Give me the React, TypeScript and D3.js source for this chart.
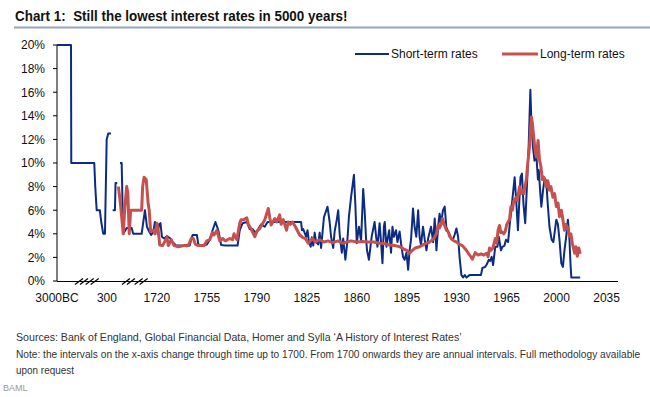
import React, { useLayoutEffect, useRef } from 'react';
import * as d3 from 'd3';

const W = 650;
const H = 397;

// x axis categories (category index positions and labels)
const tickIndex = [0, 35, 70, 105, 140, 175, 210, 245, 280, 315, 350, 385];
const tickLabels = ['3000BC', '300', '1720', '1755', '1790', '1825', '1860', '1895', '1930', '1965', '2000', '2035'];
const yTicks = [0, 2, 4, 6, 8, 10, 12, 14, 16, 18, 20];
const breakIndex = [17.5, 25.0, 50.4, 59.3];

// before 1700 the categories are irregular: [category index, value]
const earlyShort: [number, number | null][] = [
  [0, 20], [9.8, 20], [10, 10], [26.1, 10], [26.8, 8], [27.8, 6], [30, 6], [31, 5], [32.4, 4], [33.6, 4],
  [34.8, 12], [35.9, 12.5], [37.8, 12.5], [38.4, null],
  [39, 6], [40.6, 6], [41, 8.3], [42.2, 8.3], [43, null],
  [44.1, 10], [45.3, 10], [46, 6], [46.4, 4], [48.8, 4.5],
];
const earlyLong: [number, number | null][] = [
  [43, 8], [44.5, 6.5], [46.4, 4], [47.5, 6.2], [48.8, 8], [49.6, 7.5], [50.6, 4], [51.6, 6],
];

// from 1700 annual: [year, value]
const shortRates: [number, number][] = [
  [1702.3, 4.5], [1703.4, 4], [1709.3, 4], [1711.6, 6], [1713, 4.6], [1714.5, 4.2], [1716, 3.9], [1717.5, 4.2],
  [1718.6, 5.0], [1719.6, 4.9], [1720.5, 4.0], [1721.5, 4.8], [1722.5, 4.9], [1723.5, 3.75], [1725, 3.6], [1727, 3.8],
  [1729.5, 3.6], [1731, 3.3], [1733.5, 3.0], [1739, 3.0], [1741, 2.95], [1743, 3.0], [1744, 3.5], [1745, 3.9],
  [1748, 3.9], [1749, 3.1], [1752, 3.0], [1755, 3.1], [1757, 3.5], [1759, 4.3], [1761, 5.0], [1763, 4.3],
  [1765, 3.05], [1768, 3.0], [1772, 3.0], [1776.5, 3.0], [1778, 4.3], [1780, 4.9], [1783, 5.0], [1785, 4.4],
  [1787, 4.4], [1789, 4.1], [1791, 4.4], [1793, 4.8], [1795.5, 4.6], [1797.5, 5.0], [1821, 5.0], [1821.6, 4.3],
  [1822.5, 4.4], [1824.5, 3.75], [1825.5, 4.3], [1826.5, 3.3], [1827.7, 2.9], [1828.5, 3.7], [1829.5, 3.0],
  [1830.5, 4.1], [1831.5, 3.3], [1833, 3.1], [1834, 4.1], [1835, 2.8], [1837, 5.4], [1839.5, 6.3], [1841, 5.0],
  [1842, 3.75], [1843.5, 2.8], [1844.5, 4.2], [1846, 5.2], [1847, 6.0], [1848, 4.0], [1849.5, 2.4], [1850.5, 3.6],
  [1852, 1.8], [1853.3, 3.2], [1854.5, 5.45], [1856, 7.1], [1858, 9.0], [1859, 6.5], [1860, 3.2], [1861.5, 4.6],
  [1863, 3.4], [1864.5, 7.8], [1865.5, 6.0], [1866.5, 3.6], [1867.2, 2.6], [1868.5, 1.8], [1869.5, 2.8],
  [1870.5, 3.8], [1872.5, 5.0], [1873.5, 3.8], [1874.5, 2.9], [1876, 4.9], [1877, 3.3], [1878, 1.5], [1879, 4.6],
  [1879.6, 5.0], [1880.8, 2.9], [1881.7, 3.6], [1882.7, 4.3], [1884, 2.4], [1885, 4.6], [1886, 3.75],
  [1887.5, 4.3], [1888.5, 3.3], [1890, 4.2], [1891, 3.2], [1892.4, 2.05], [1893.5, 1.8], [1894.8, 2.4],
  [1896, 0.95], [1897, 2.6], [1898, 3.5], [1899.4, 6.15], [1900.5, 4.6], [1901.7, 3.75], [1903, 6.0],
  [1904, 3.75], [1905, 3.05], [1906.4, 4.6], [1907.6, 3.5], [1908.8, 2.6], [1910, 3.6], [1912, 4.6],
  [1913.5, 3.3], [1914.6, 5.3], [1915.8, 2.6], [1917, 4.6], [1918, 5.7], [1919, 4.9], [1920.4, 6.0],
  [1921.6, 6.3], [1922.7, 4.6], [1923.9, 4.2], [1925, 3.75], [1927.3, 3.5], [1928.5, 3.9], [1929.8, 4.45],
  [1931, 3.75], [1932, 2.05], [1933.3, 0.5], [1934.5, 0.3], [1935.7, 0.5], [1936.8, 0.3], [1939, 0.5],
  [1947, 0.5], [1948, 1.1], [1950, 1.2], [1951, 1.4], [1952.5, 1.8], [1953.5, 1.7], [1954.5, 2.05],
  [1955.5, 1.35], [1957, 2.9], [1958.5, 2.9], [1959.5, 3.75], [1961, 2.6], [1962, 2.9], [1963.5, 3.0],
  [1964.5, 3.5], [1966, 3.3], [1967, 4.6], [1968, 5.7], [1969, 6.9], [1970.6, 8.8], [1971.8, 6.6],
  [1972.9, 4.3], [1974, 7.1], [1974.7, 8.8], [1975.7, 9.1], [1976.8, 6.5], [1978, 4.9], [1979, 7.5],
  [1980.4, 11.4], [1981.6, 16.2], [1982.3, 13.6], [1983.4, 11.4], [1984.5, 10.2], [1985.8, 10.7],
  [1986.9, 8.6], [1987.5, 9.4], [1988.6, 7.4], [1989.3, 6.3], [1990.5, 7.7], [1991.6, 8.7], [1992.7, 8.5],
  [1993.8, 6.5], [1995, 4.6], [1996.5, 3.5], [1997.7, 3.3], [1999.8, 5.2], [2000.9, 4.8], [2002, 3.5],
  [2003.3, 1.5], [2004.4, 1.2], [2005.5, 2.6], [2006.7, 3.75], [2007.9, 5.2], [2009, 3.5], [2009.7, 1.5],
  [2010.3, 0.3], [2016.5, 0.3],
];

const longRates: [number, number][] = [
  [1709.3, 6], [1710, 8], [1711, 8.8], [1712.5, 8.6], [1713.9, 6.5], [1714.6, 6], [1715.6, 4.2], [1717.5, 4.3],
  [1718.6, 4.0], [1720, 4.9], [1721, 4.2], [1722, 3.05], [1724, 3.0], [1727, 3.7], [1728, 3.0], [1730, 3.5],
  [1732, 3.0], [1735, 2.9], [1739, 3.0], [1742, 3.0], [1744, 3.6], [1745.5, 3.6], [1747, 3.1], [1749, 3.0],
  [1753, 3.0], [1755, 3.4], [1757, 3.5], [1759, 4.1], [1760, 3.9], [1762, 4.3], [1764, 3.4], [1766, 3.6],
  [1768, 3.4], [1771, 3.6], [1773, 3.5], [1774, 4.0], [1776, 3.5], [1778, 4.9], [1779, 5.2], [1781, 5.2],
  [1783, 5.35], [1784, 4.8], [1786, 4.4], [1788.6, 3.75], [1790, 4.2], [1792, 4.45], [1795.6, 5.2],
  [1798, 6.15], [1799, 5.4], [1800, 4.75], [1802.6, 5.3], [1804, 5.0], [1806, 5.6], [1807, 4.8],
  [1808.5, 5.2], [1810.8, 4.3], [1812, 5.0], [1813.5, 4.8], [1815, 5.0], [1817, 4.6], [1820, 3.9],
  [1822, 3.7], [1824, 3.6], [1826, 3.2], [1829, 3.6], [1831, 3.3], [1834, 3.5], [1837, 3.3], [1840, 3.4],
  [1843, 3.25], [1847, 3.4], [1850, 3.2], [1853, 3.3], [1856, 3.4], [1860, 3.3], [1864, 3.35], [1868, 3.3],
  [1872, 3.3], [1876, 3.2], [1880, 3.15], [1883, 3.05], [1887, 3.0], [1890, 2.9], [1893, 2.7], [1895, 2.6],
  [1897, 2.35], [1899, 2.6], [1901, 2.8], [1904, 2.9], [1907, 3.1], [1911, 3.3], [1914, 3.6], [1915.8, 4.0],
  [1917, 4.75], [1918, 4.5], [1919, 4.75], [1920, 5.3], [1921, 4.9], [1922.8, 4.3], [1924, 4.2], [1926, 3.6],
  [1928, 3.4], [1930, 3.3], [1932, 3.1], [1934, 3.0], [1936.8, 2.6], [1939, 2.2], [1941, 1.85], [1943, 2.4],
  [1945, 2.2], [1947, 2.3], [1949, 2.2], [1951, 2.35], [1952, 2.05], [1953, 2.8], [1954, 2.6], [1955.4, 2.8],
  [1957, 3.6], [1958, 3.2], [1959, 4.3], [1960, 4.7], [1961, 4.1], [1962, 4.15], [1963, 4.0], [1964, 4.2],
  [1965, 4.75], [1966, 5.0], [1967, 5.2], [1968, 6.3], [1969, 6.0], [1970, 6.8], [1971.8, 7.1], [1972.5, 6.8],
  [1974, 8.0], [1975, 7.4], [1976, 7.7], [1977, 7.4], [1978.8, 8.6], [1979.8, 10], [1981, 11.4],
  [1982.3, 13.9], [1983, 13.4], [1984.6, 11.4], [1985.8, 10.5], [1987, 11.9], [1988, 10.25], [1989, 9.7],
  [1990, 8.6], [1991, 8.8], [1992.8, 8.0], [1993.8, 8.5], [1995, 7.7], [1996, 8.0], [1997.4, 7.1],
  [1998.6, 7.4], [1999.8, 6.3], [2001, 6.6], [2002, 5.45], [2003.3, 6.0], [2004.4, 5.2], [2005.5, 4.3],
  [2006.5, 4.8], [2007.5, 4.6], [2009, 3.75], [2010, 4.0], [2011, 3.2], [2012.6, 2.35], [2013.5, 2.9],
  [2014.5, 2.1], [2015.5, 2.8], [2016.5, 2.3],
];

const title = 'Chart 1:  Still the lowest interest rates in 5000 years!';
const footnotes = [
  'Sources: Bank of England, Global Financial Data, Homer and Sylla \u2018A History of Interest Rates\u2019',
  'Note: the intervals on the x-axis change through time up to 1700. From 1700 onwards they are annual intervals. Full methodology available',
  'upon request',
];
const seriesNames = ['Short-term rates', 'Long-term rates'];

const BLUE = '#0c2c84';
const RED = '#c6504e';

const firstAnnualYear = 1650; // category index of a year = year - 1650

// text squeezed horizontally to a target width (condensed look)
function FitText(props: {
  x: number; y: number; width: number; size: number; weight?: string; fill: string; family: string; children: string;
}) {
  const ref = useRef<SVGTextElement>(null);
  useLayoutEffect(() => {
    const el = ref.current;
    if (!el) return;
    el.setAttribute('transform', `translate(${props.x},${props.y})`);
    const natural = el.getComputedTextLength();
    const s = natural > 0 ? props.width / natural : 1;
    el.setAttribute('transform', `translate(${props.x},${props.y}) scale(${s},1)`);
  }, [props.x, props.y, props.width, props.children]);
  return (
    <text
      ref={ref}
      x={0}
      y={0}
      fontFamily={props.family}
      fontSize={props.size}
      fontWeight={props.weight || 'normal'}
      fill={props.fill}
      style={{ whiteSpace: 'pre' }}
    >
      {props.children}
    </text>
  );
}

export default function App() {
  const x = d3.scaleLinear().domain([0, 393]).range([57, 618]);
  const y = d3.scaleLinear().domain([0, 20]).range([281, 45]);

  const toCat = (pts: [number, number][]): [number, number | null][] =>
    pts.map(([yr, v]) => [yr - firstAnnualYear, v]);

  const shortAll = [...earlyShort, ...toCat(shortRates)];
  const longAll = [...earlyLong, ...toCat(longRates)];

  const line = d3
    .line<[number, number | null]>()
    .defined((d) => d[1] !== null)
    .x((d) => x(d[0]))
    .y((d) => y(d[1] as number))
    .curve(d3.curveLinear);

  const font = '"Liberation Sans", Arial, sans-serif';

  return (
    <svg
      width={W}
      height={H}
      viewBox={`0 0 ${W} ${H}`}
      style={{ position: 'absolute', left: 0, top: 0, background: '#fff' }}
    >
      <rect x={0} y={0} width={W} height={H} fill="#fff" />
      {/* title */}
      <FitText x={15} y={21} width={333} size={15} weight="bold" fill="#111" family={font}>
        {title}
      </FitText>
      <line x1={14} x2={650} y1={27.5} y2={27.5} stroke="#93a5c0" strokeWidth={2} />

      {/* y axis */}
      <line x1={x(0)} x2={x(0)} y1={y(20)} y2={y(0)} stroke="#000" strokeWidth={1} />
      {yTicks.map((t) => (
        <g key={t}>
          <line x1={x(0) - 4} x2={x(0)} y1={y(t)} y2={y(t)} stroke="#000" strokeWidth={1} />
          <text x={45} y={y(t) + 4.3} textAnchor="end" fontFamily={font} fontSize={12} fill="#111">
            {`${t}%`}
          </text>
        </g>
      ))}

      {/* x axis */}
      <line x1={x(0)} x2={x(393)} y1={y(0) + 0.5} y2={y(0) + 0.5} stroke="#000" strokeWidth={1} />
      {tickIndex.map((t, i) => (
        <text key={t} x={x(t)} y={302} textAnchor="middle" fontFamily={font} fontSize={12} fill="#111">
          {tickLabels[i]}
        </text>
      ))}
      {breakIndex.map((b) => (
        <g key={b} stroke="#000" strokeWidth={1.2}>
          <line x1={x(b) - 7} y1={y(0) + 3.5} x2={x(b) + 1} y2={y(0) - 2.5} />
          <line x1={x(b) - 2} y1={y(0) + 3.5} x2={x(b) + 6} y2={y(0) - 2.5} />
        </g>
      ))}

      {/* series */}
      <path d={line(shortAll) || ''} fill="none" stroke={BLUE} strokeWidth={2} strokeLinejoin="round" />
      <path d={line(longAll) || ''} fill="none" stroke={RED} strokeWidth={3} strokeLinejoin="round" />

      {/* legend */}
      <line x1={355} x2={389} y1={54} y2={54} stroke={BLUE} strokeWidth={2} />
      <text x={391} y={58.3} fontFamily={font} fontSize={12} fill="#111">{seriesNames[0]}</text>
      <line x1={502} x2={538} y1={54} y2={54} stroke={RED} strokeWidth={3} />
      <text x={540} y={58.3} fontFamily={font} fontSize={12} fill="#111">{seriesNames[1]}</text>

      {/* footnotes */}
      <FitText x={16} y={341} width={446} size={11.5} fill="#333" family={font}>{footnotes[0]}</FitText>
      <FitText x={16} y={358} width={625} size={11.5} fill="#333" family={font}>{footnotes[1]}</FitText>
      <FitText x={16} y={374} width={58} size={11.5} fill="#333" family={font}>{footnotes[2]}</FitText>
      <text x={3} y={391} fontFamily={font} fontSize={9} fill="#999">BAML</text>
    </svg>
  );
}
